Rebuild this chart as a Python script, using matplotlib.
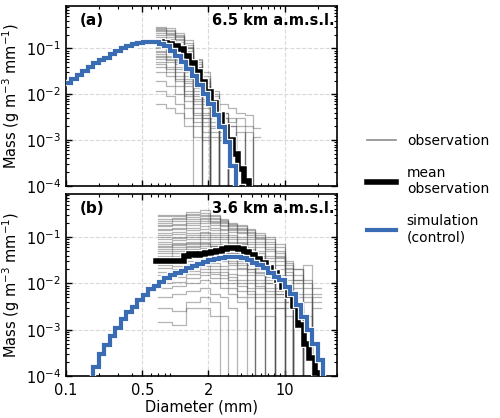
import matplotlib
matplotlib.use("Agg")
import matplotlib.pyplot as plt
import matplotlib.patheffects as pe
from matplotlib.lines import Line2D
from matplotlib.ticker import FixedLocator, FixedFormatter, LogLocator, NullFormatter
import numpy as np

# model bin edges (mm) for the simulation
sim_edges = [0.1, 0.112, 0.126, 0.141, 0.158, 0.178, 0.2, 0.224, 0.251, 0.282,
             0.316, 0.355, 0.398, 0.447, 0.501, 0.562, 0.631, 0.708, 0.794, 0.891,
             1.0, 1.12, 1.26, 1.41, 1.58, 1.78, 2.0, 2.24, 2.51, 2.82,
             3.16, 3.55, 3.98, 4.47, 5.01, 5.62, 6.31, 7.08, 7.94, 8.91,
             10.0, 11.2, 12.6, 14.1, 15.8, 17.8, 20.0, 22.4, 25.1, 28.2, 31.6]
# bin edges (mm) of the mean observed spectrum
mean_edges = [0.67, 0.75, 0.84, 0.94, 1.06, 1.19, 1.33, 1.5, 1.68, 1.88,
              2.11, 2.37, 2.66, 2.99, 3.35, 3.76, 4.22, 4.73, 5.31, 5.96,
              6.68, 7.5, 8.41, 9.44, 10.6, 11.9, 13.3, 14.9, 16.8, 18.8,
              21.1, 23.7]

# (a) 6.5 km
sim_a = [0.018, 0.022, 0.027, 0.033, 0.040, 0.047, 0.057, 0.062, 0.075, 0.088,
         0.100, 0.112, 0.124, 0.132, 0.136, 0.137, 0.135, 0.128, 0.112, 0.090,
         0.068, 0.050, 0.036, 0.025, 0.016, 0.010, 0.0060, 0.0035, 0.0019, 9e-4,
         2.8e-4, 0]
mean_a = [0.135, 0.13, 0.125, 0.115, 0.095, 0.07, 0.047, 0.031, 0.019, 0.0115,
          0.0065, 0.0035, 0.0019, 0.001, 5e-4, 2.4e-4, 1.3e-4, 0]

# (b) 3.6 km, simulation starts at sim bin 4
sim_b = [5e-5, 1.6e-4, 3.0e-4, 4.8e-4, 7.5e-4, 1.1e-3, 1.7e-3, 2.4e-3, 3.1e-3, 4.3e-3,
         5.5e-3, 7.5e-3, 9.0e-3, 0.011, 0.0128, 0.015, 0.017, 0.019, 0.021, 0.024,
         0.026, 0.029, 0.032, 0.034, 0.036, 0.037, 0.038, 0.037, 0.035, 0.032,
         0.028, 0.025, 0.021, 0.017, 0.014, 0.0118, 0.0085, 0.0058, 0.0035, 0.0019,
         1.0e-3, 5e-4, 2.2e-4, 0]
sim_b_start = 4
mean_b = [0.030, 0.030, 0.030, 0.030, 0.030, 0.040, 0.044, 0.042, 0.043, 0.046,
          0.047, 0.050, 0.054, 0.057, 0.058, 0.055, 0.048, 0.041, 0.034, 0.028,
          0.022, 0.017, 0.012, 0.0085, 0.0055, 0.0032, 0.0013, 5e-4, 2.5e-4, 1.2e-4, 0]

# individual observed spectra, (a)
obs_edges_a = [0.67, 0.82, 1.0, 1.2, 1.45, 1.75, 2.07, 2.5, 3.0, 3.6, 4.3, 5.1, 5.9]
obs_a = [
    [0.30, 0.28, 0.22, 0.15, 0.06, 0.025, 0.012, 0.006, 0.005, 0.004, 0.0035, 0.0018],
    [0.28, 0.25, 0.18, 0.10, 0.045, 0.02, 0.009, 0.003, 0, 0, 0, 0],
    [0.26, 0.24, 0.19, 0.13, 0.055, 0.022, 0.01, 0.004, 0.002, 0.002, 0.002, 0],
    [0.25, 0.22, 0.20, 0.12, 0.05, 0.030, 0.008, 0.004, 0.0025, 0.003, 0, 0],
    [0.24, 0.21, 0.15, 0.11, 0.04, 0.018, 0.007, 0.003, 0, 0, 0, 0.0012],
    [0.22, 0.20, 0.16, 0.10, 0.035, 0.012, 0.005, 0.002, 0.0012, 0, 0, 0],
    [0.20, 0.18, 0.14, 0.09, 0.04, 0.015, 0.006, 0, 0.003, 0, 0.0015, 0],
    [0.18, 0.16, 0.11, 0.08, 0.026, 0.009, 0.004, 0, 0, 0.0015, 0, 0],
    [0.16, 0.15, 0.12, 0.07, 0.03, 0.010, 0.003, 0.0015, 0, 0, 0, 0],
    [0.15, 0.14, 0.11, 0.065, 0.028, 0.011, 0.0035, 0.0018, 0, 0, 0, 0],
    [0.14, 0.12, 0.10, 0.06, 0.022, 0.008, 0.0025, 0, 0, 0, 0, 0],
    [0.13, 0.11, 0.09, 0.05, 0.02, 0.007, 0.003, 0, 0, 0, 0, 0],
    [0.12, 0.10, 0.08, 0.045, 0.016, 0.005, 0.002, 0.001, 0, 0, 0, 0],
    [0.11, 0.08, 0.07, 0.04, 0.014, 0.006, 0, 0, 0, 0, 0, 0],
    [0.10, 0.09, 0.06, 0.035, 0.012, 0.004, 0, 0, 0.002, 0, 0, 0],
    [0.09, 0.08, 0.055, 0.03, 0.01, 0.0035, 0.0015, 0, 0, 0, 0, 0],
    [0.085, 0.07, 0.05, 0.025, 0.009, 0.003, 0.0012, 0, 0, 0, 0, 0],
    [0.075, 0.065, 0.045, 0.022, 0.008, 0.003, 0, 0.0012, 0, 0, 0, 0],
    [0.07, 0.06, 0.04, 0.02, 0.007, 0.002, 0, 0, 0, 0, 0, 0],
    [0.065, 0.055, 0.035, 0.018, 0.006, 0.0025, 0, 0, 0, 0, 0, 0],
    [0.06, 0.05, 0.03, 0.015, 0.005, 0, 0.0018, 0, 0, 0, 0, 0],
    [0.05, 0.04, 0.025, 0.012, 0.004, 0.0015, 0, 0, 0, 0, 0, 0],
    [0.045, 0.035, 0.022, 0.01, 0.0035, 0.0012, 0, 0, 0, 0, 0, 0],
    [0.04, 0.03, 0.02, 0.009, 0.003, 0, 0, 0, 0, 0, 0, 0],
    [0.03, 0.025, 0.015, 0.007, 0.0025, 0.001, 0, 0, 0, 0, 0, 0],
    [0.02, 0.015, 0.01, 0.005, 0.002, 0, 0, 0, 0, 0, 0, 0],
    [0.012, 0.009, 0.006, 0.003, 0, 0, 0, 0, 0, 0, 0, 0],
    [0.006, 0.005, 0.004, 0.002, 0.0012, 0, 0, 0, 0, 0, 0, 0],
]

# individual observed spectra, (b)
obs_edges_b = [0.69, 0.93, 1.26, 1.67, 2.07, 2.56, 3.03, 3.66, 4.53, 5.37,
               6.6, 8.2, 10.1, 12.0, 14.8, 17.9, 21.3]
obs_b = [
    [0.30, 0.30, 0.35, 0.38, 0.30, 0.24, 0.20, 0.18, 0.15, 0.12, 0.10, 0.07, 0.03, 0.012, 0.025, 0.008],
    [0.28, 0.28, 0.32, 0.33, 0.28, 0.23, 0.19, 0.17, 0.14, 0.11, 0.09, 0.06, 0.028, 0.02, 0.012, 0.006],
    [0.25, 0.26, 0.30, 0.30, 0.26, 0.22, 0.18, 0.16, 0.13, 0.10, 0.08, 0.05, 0.025, 0.015, 0.008, 0.004],
    [0.22, 0.24, 0.27, 0.28, 0.24, 0.21, 0.17, 0.15, 0.12, 0.095, 0.07, 0.045, 0.022, 0.012, 0, 0.003],
    [0.20, 0.22, 0.25, 0.26, 0.22, 0.20, 0.16, 0.14, 0.11, 0.09, 0.06, 0.04, 0.02, 0.02, 0.01, 0],
    [0.18, 0.19, 0.22, 0.24, 0.21, 0.18, 0.15, 0.13, 0.10, 0.08, 0.055, 0.038, 0.018, 0.01, 0.005, 0],
    [0.17, 0.18, 0.20, 0.22, 0.20, 0.17, 0.14, 0.12, 0.09, 0.07, 0.05, 0.035, 0.015, 0.008, 0.006, 0],
    [0.15, 0.16, 0.18, 0.20, 0.18, 0.15, 0.13, 0.10, 0.08, 0.06, 0.04, 0.03, 0.012, 0.006, 0, 0.005],
    [0.14, 0.15, 0.16, 0.17, 0.16, 0.14, 0.11, 0.09, 0.07, 0.05, 0.035, 0.025, 0.01, 0.005, 0, 0],
    [0.12, 0.13, 0.14, 0.15, 0.14, 0.12, 0.10, 0.08, 0.06, 0.045, 0.03, 0.02, 0.008, 0, 0.004, 0],
    [0.11, 0.115, 0.125, 0.13, 0.12, 0.11, 0.09, 0.075, 0.055, 0.04, 0.025, 0.015, 0.006, 0, 0, 0],
    [0.10, 0.10, 0.11, 0.12, 0.11, 0.10, 0.08, 0.07, 0.05, 0.035, 0.022, 0.012, 0.005, 0.003, 0, 0],
    [0.09, 0.095, 0.10, 0.11, 0.10, 0.09, 0.075, 0.06, 0.045, 0.03, 0.018, 0.01, 0.004, 0, 0.002, 0],
    [0.08, 0.085, 0.09, 0.10, 0.09, 0.08, 0.065, 0.05, 0.04, 0.025, 0.015, 0.008, 0, 0.003, 0, 0],
    [0.07, 0.075, 0.08, 0.09, 0.08, 0.07, 0.058, 0.045, 0.035, 0.022, 0.014, 0.007, 0, 0.002, 0, 0],
    [0.065, 0.068, 0.072, 0.075, 0.065, 0.055, 0.045, 0.035, 0.025, 0.017, 0.01, 0.005, 0, 0, 0, 0],
    [0.06, 0.07, 0.075, 0.08, 0.07, 0.06, 0.05, 0.04, 0.03, 0.02, 0.012, 0.006, 0.004, 0, 0, 0],
    [0.055, 0.06, 0.065, 0.07, 0.065, 0.055, 0.045, 0.035, 0.025, 0.018, 0.01, 0.006, 0.003, 0, 0, 0],
    [0.05, 0.055, 0.06, 0.065, 0.06, 0.05, 0.04, 0.03, 0.02, 0.015, 0.008, 0, 0.005, 0, 0, 0],
    [0.045, 0.05, 0.055, 0.057, 0.05, 0.045, 0.035, 0.028, 0.02, 0.012, 0.007, 0.004, 0.002, 0, 0, 0],
    [0.04, 0.045, 0.05, 0.05, 0.045, 0.04, 0.03, 0.025, 0.018, 0.01, 0.006, 0.003, 0, 0, 0, 0],
    [0.035, 0.04, 0.045, 0.045, 0.04, 0.035, 0.028, 0.022, 0.015, 0.009, 0.005, 0, 0, 0, 0, 0],
    [0.03, 0.035, 0.04, 0.04, 0.035, 0.03, 0.025, 0.02, 0.012, 0.008, 0.004, 0, 0, 0, 0, 0],
    [0.025, 0.028, 0.03, 0.03, 0.028, 0.024, 0.02, 0.015, 0.01, 0.006, 0, 0.003, 0, 0, 0, 0],
    [0.022, 0.024, 0.026, 0.027, 0.024, 0.02, 0.016, 0.012, 0.008, 0.005, 0.003, 0, 0, 0, 0, 0],
    [0.018, 0.02, 0.022, 0.024, 0.02, 0.018, 0.014, 0.01, 0.007, 0.004, 0.002, 0, 0, 0, 0, 0],
    [0.015, 0.017, 0.019, 0.02, 0.018, 0.015, 0.012, 0.009, 0.006, 0.003, 0, 0, 0, 0, 0, 0],
    [0.012, 0.014, 0.016, 0.018, 0.016, 0.013, 0.01, 0.007, 0.005, 0, 0, 0, 0, 0, 0, 0],
    [0.01, 0.011, 0.013, 0.015, 0.013, 0.01, 0.008, 0.005, 0.003, 0, 0, 0, 0, 0, 0, 0],
    [0.008, 0.009, 0.01, 0.012, 0.01, 0.008, 0.006, 0.004, 0, 0.002, 0, 0, 0, 0, 0, 0],
    [0.005, 0.006, 0.007, 0.008, 0.006, 0.005, 0.003, 0, 0, 0, 0, 0, 0, 0, 0, 0],
    [0.003, 0.0025, 0.004, 0.005, 0.004, 0.002, 0, 0, 0, 0, 0, 0, 0, 0, 0, 0],
    [0.0015, 0.0013, 0.003, 0.003, 0.002, 0, 0, 0, 0, 0, 0, 0, 0, 0, 0, 0],
]

panel_labels = ["(a)", "(b)"]
heights = ["6.5 km a.m.s.l.", "3.6 km a.m.s.l."]
x_ticks = [0.1, 0.5, 2, 10]
x_ticklabels = ["0.1", "0.5", "2", "10"]

BLUE = "#3a6cb4"


def step_xy(edges, vals):
    v = np.array(vals, dtype=float)
    v[v <= 0] = 1e-7  # empty bins drop below the axis
    x = np.repeat(np.asarray(edges[:len(v) + 1], dtype=float), 2)[1:-1]
    y = np.repeat(v, 2)
    return x, y


def outlined(lw):
    return [pe.Stroke(linewidth=lw + 1.6, foreground="white"), pe.Normal()]


fig = plt.figure(figsize=(5, 4.18), dpi=100)
ax_a = fig.add_axes([0.132, 0.555, 0.542, 0.431])
ax_b = fig.add_axes([0.132, 0.100, 0.542, 0.436])

panels = [
    (ax_a, obs_edges_a, obs_a, sim_a, 0, mean_a),
    (ax_b, obs_edges_b, obs_b, sim_b, sim_b_start, mean_b),
]

for i, (ax, oe, obs, sim, s0, mean) in enumerate(panels):
    ax.set_xscale("log")
    ax.set_yscale("log")
    for spec in obs:
        x, y = step_xy(oe, spec)
        ax.plot(x, y, color="0.3", lw=0.9, alpha=0.42, zorder=2)
    x, y = step_xy(mean_edges, mean)
    ax.plot(x, y, color="black", lw=4, zorder=3, path_effects=outlined(4),
            solid_joinstyle="miter")
    x, y = step_xy(sim_edges[s0:], sim)
    ax.plot(x, y, color=BLUE, lw=3, zorder=4, path_effects=outlined(3),
            solid_joinstyle="miter")

    ax.set_xlim(0.1, 30)
    ax.set_ylim(1e-4, 0.85)
    ax.xaxis.set_major_locator(FixedLocator(x_ticks))
    ax.xaxis.set_major_formatter(FixedFormatter(x_ticklabels))
    ax.xaxis.set_minor_locator(LogLocator(base=10, subs=np.arange(2, 10), numticks=20))
    ax.xaxis.set_minor_formatter(NullFormatter())
    ax.yaxis.set_major_locator(FixedLocator([1e-4, 1e-3, 1e-2, 1e-1]))
    ax.yaxis.set_minor_locator(LogLocator(base=10, subs=np.arange(2, 10), numticks=20))
    ax.yaxis.set_minor_formatter(NullFormatter())
    ax.tick_params(which="both", direction="in", top=True, right=True, labelsize=10.5)
    ax.tick_params(which="major", length=4, width=1)
    ax.tick_params(which="minor", length=2.5, width=0.8)
    ax.tick_params(axis="x", pad=5)
    ax.grid(True, which="major", ls="--", color="0.85", lw=0.8, zorder=0)
    for sp in ax.spines.values():
        sp.set_linewidth(1.2)
    ax.set_ylabel("Mass (g m$^{-3}$ mm$^{-1}$)", fontsize=10.5, labelpad=3)
    ax.text(0.052, 0.92, panel_labels[i], transform=ax.transAxes, fontsize=11,
            fontweight="bold", va="center", ha="left")
    ax.text(0.99, 0.92, heights[i], transform=ax.transAxes, fontsize=10.5,
            fontweight="bold", va="center", ha="right")

ax_a.tick_params(labelbottom=False)
ax_b.set_xlabel("Diameter (mm)", fontsize=10.5, labelpad=1)

handles = [
    Line2D([], [], color="0.55", lw=1.2),
    Line2D([], [], color="black", lw=4),
    Line2D([], [], color=BLUE, lw=3),
]
labels = ["observation", "mean\nobservation", "simulation\n(control)"]
fig.legend(handles, labels, loc="center left", bbox_to_anchor=(0.708, 0.547),
           frameon=False, fontsize=10, handlelength=2.1, labelspacing=1.3)

fig.savefig("out.png", dpi=100)
